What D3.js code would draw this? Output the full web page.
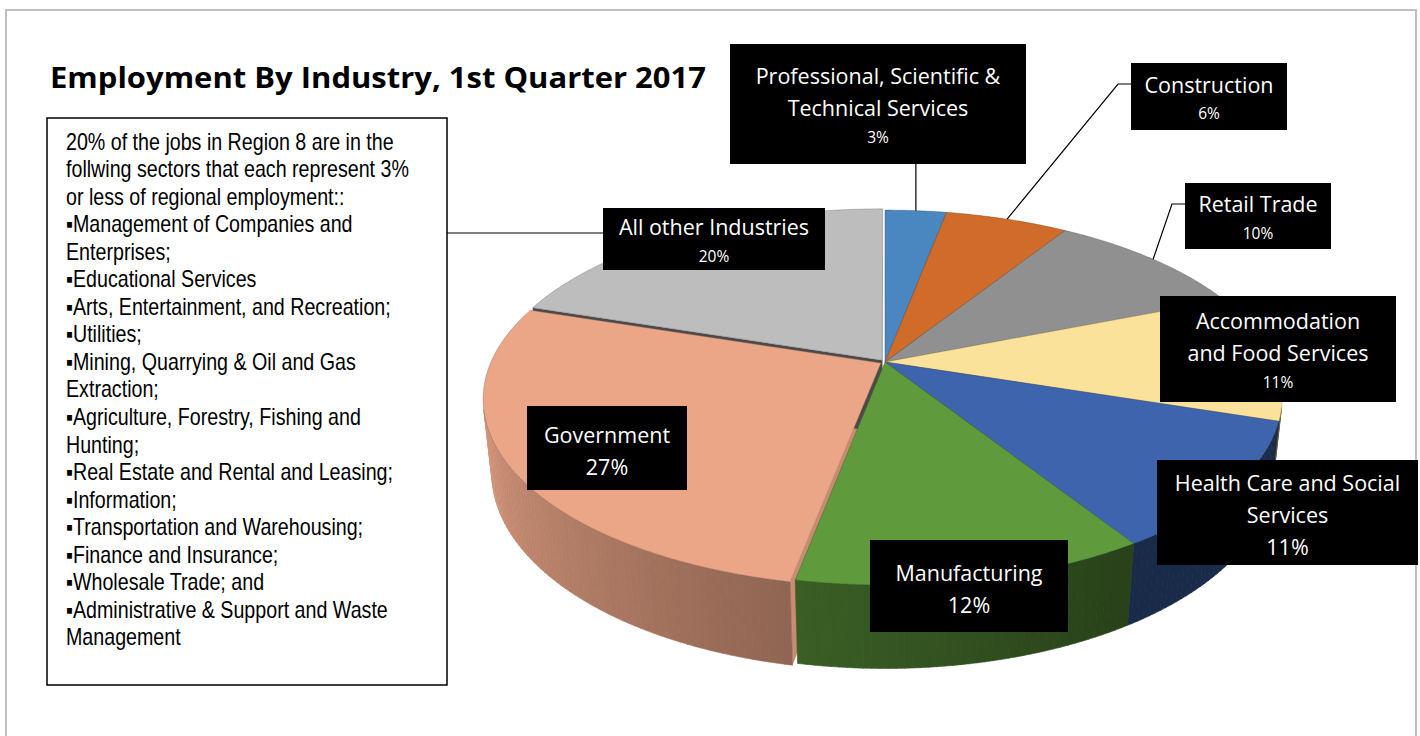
<!DOCTYPE html>
<html>
<head>
<meta charset="utf-8">
<script src="https://cdn.jsdelivr.net/npm/d3@7"></script>
<style>
  body { margin: 0; background: #fff; }
  svg { display: block; }
</style>
</head>
<body>
<div id="chart"></div>
<script>
// ---- data ----
const chartTitle = "Employment By Industry, 1st Quarter 2017";
const categories = [
    "Professional, Scientific & Technical Services",
    "Construction",
    "Retail Trade",
    "Accommodation and Food Services",
    "Health Care and Social Services",
    "Manufacturing",
    "Government",
    "All other Industries"
];
const shares = [3, 6, 10, 11, 11, 12, 27, 20];
const sliceColors = ["#4a86bf", "#d06b29", "#909090", "#fbe29b", "#3d64ac", "#5f9a3c", "#eba587", "#bdbdbd"];
const noteLines = [
    "20% of the jobs in Region 8 are in the",
    "follwing sectors that each represent 3%",
    "or less of regional employment::",
    "\u25aaManagement of Companies and",
    "Enterprises;",
    "\u25aaEducational Services",
    "\u25aaArts, Entertainment, and Recreation;",
    "\u25aaUtilities;",
    "\u25aaMining, Quarrying & Oil and Gas",
    "Extraction;",
    "\u25aaAgriculture, Forestry, Fishing and",
    "Hunting;",
    "\u25aaReal Estate and Rental and Leasing;",
    "\u25aaInformation;",
    "\u25aaTransportation and Warehousing;",
    "\u25aaFinance and Insurance;",
    "\u25aaWholesale Trade; and",
    "\u25aaAdministrative & Support and Waste",
    "Management"
];

// ---- layout (label boxes are placed by hand, like in the original) ----
const labelLayout = [
    {x: 730,  y: 44,  w: 296, h: 120, lines: ["Professional, Scientific &", "Technical Services"], pct: 16, leader: "down"},
    {x: 1131, y: 63,  w: 156, h: 67,  lines: ["Construction"], pct: 16, leader: "left"},
    {x: 1185, y: 183, w: 146, h: 66,  lines: ["Retail Trade"], pct: 16, leader: "left"},
    {x: 1160, y: 296, w: 236, h: 106, lines: ["Accommodation", "and Food Services"], pct: 16},
    {x: 1157, y: 460, w: 261, h: 105, lines: ["Health Care and Social", "Services"], pct: 22},
    {x: 870,  y: 540, w: 198, h: 92,  lines: ["Manufacturing"], pct: 22},
    {x: 527,  y: 406, w: 160, h: 84,  lines: ["Government"], pct: 22},
    {x: 603,  y: 208, w: 222, h: 62,  lines: ["All other Industries"], pct: 16}
];
const explodeBy = [0, 0, 0, 0, 0, 0, 0.012, 0.012];

const W = 1420, H = 736;
const labelFont = "'Open Sans', Lato, sans-serif";

const svg = d3.select("#chart").append("svg")
    .attr("width", W)
    .attr("height", H);

svg.append("rect")
    .attr("x", 6).attr("y", 10)
    .attr("width", 1410).attr("height", 740)
    .attr("fill", "#fff")
    .attr("stroke", "#bfbfbf")
    .attr("stroke-width", 2);

// ---- perspective camera for the 3D pie ----
const cam = {cx: 885, cy: 362, F: 1825, dist: 4.68, tilt: 27.6 * Math.PI / 180, depth: 0.215};
const cosT = Math.cos(cam.tilt), sinT = Math.sin(cam.tilt);

function project(X, Y, Z) {
    let d = cam.dist + Z * cosT - Y * sinT;
    let up = Y * cosT + Z * sinT;
    return [cam.cx + cam.F * X / d, cam.cy - cam.F * up / d];
}
// camera position in world coords
const camPos = {X: 0, Y: cam.dist * sinT, Z: -cam.dist * cosT};

function rimPoint(a, off, y, r) {
    r = r === undefined ? 1 : r;
    return project(off.X + r * Math.sin(a), y, off.Z + r * Math.cos(a));
}

const pie = d3.pie().sort(null).value(d => d);
const arcs = pie(shares);
const total = d3.sum(shares);

arcs.forEach(function (d, i) {
    let mid = (d.startAngle + d.endAngle) / 2;
    let e = explodeBy[i];
    d.off = {X: e * Math.sin(mid), Z: e * Math.cos(mid)};
    d.color = sliceColors[i];
});

// side wall shading against angle
const shade = d3.scaleLinear()
    .domain([150, 256].map(v => v * Math.PI / 180))
    .range([0.43, 0.9])
    .clamp(true);

function darken(c, f) {
    let rgb = d3.rgb(c);
    return d3.rgb(rgb.r * f, rgb.g * f, rgb.b * f).formatHex();
}

const lineGen = d3.line();
const step = Math.PI / 180;

// visible outer wall range (front facing)
const wallMin = Math.acos(-1 / (cam.dist * cosT));
const wallMax = 2 * Math.PI - wallMin;

const gPie = svg.append("g");

// radial cut faces (only show where slices are pulled out)
arcs.forEach(function (d, i) {
    [[d.startAngle, -1], [d.endAngle, 1]].forEach(function (f) {
        let a = f[0], s = f[1];
        let n = {X: s * Math.cos(a), Z: -s * Math.sin(a)};
        let P = {X: d.off.X + 0.5 * Math.sin(a), Z: d.off.Z + 0.5 * Math.cos(a)};
        let v = (camPos.X - P.X) * n.X + (camPos.Z - P.Z) * n.Z;
        if (v <= 0) return;
        let pts = [rimPoint(a, d.off, 0, 0), rimPoint(a, d.off, 0, 1),
                   rimPoint(a, d.off, -cam.depth, 1), rimPoint(a, d.off, -cam.depth, 0)];
        gPie.append("path")
            .attr("d", lineGen(pts) + "Z")
            .attr("fill", i === 7 ? "#4a4a4a" : darken(d.color, 0.85))
            .attr("stroke", "none");
    });
});

// outer walls
arcs.forEach(function (d, i) {
    let a0 = Math.max(d.startAngle, wallMin);
    let a1 = Math.min(d.endAngle, wallMax);
    if (a1 <= a0) return;
    let segs = d3.range(a0, a1, step);
    segs.forEach(function (a) {
        let b = Math.min(a + step * 1.05, a1);
        let pts = [rimPoint(a, d.off, 0), rimPoint(b, d.off, 0),
                   rimPoint(b, d.off, -cam.depth), rimPoint(a, d.off, -cam.depth)];
        let c = darken(d.color, shade((a + b) / 2));
        gPie.append("path")
            .attr("d", lineGen(pts) + "Z")
            .attr("fill", c)
            .attr("stroke", c)
            .attr("stroke-width", 0.6);
    });
});

// top faces
arcs.forEach(function (d, i) {
    let pts = [rimPoint(0, d.off, 0, 0)];
    d3.range(d.startAngle, d.endAngle, step / 2).forEach(a => pts.push(rimPoint(a, d.off, 0)));
    pts.push(rimPoint(d.endAngle, d.off, 0));
    gPie.append("path")
        .attr("d", lineGen(pts) + "Z")
        .attr("fill", d.color)
        .attr("stroke", darken(d.color, 0.6))
        .attr("stroke-opacity", 0.5)
        .attr("stroke-width", 0.8)
        .attr("stroke-linejoin", "round");
});

// ---- title ----
svg.append("text")
    .attr("x", 50).attr("y", 88)
    .attr("font-family", labelFont)
    .attr("font-weight", "bold")
    .attr("font-size", 29)
    .attr("textLength", 656)
    .attr("lengthAdjust", "spacingAndGlyphs")
    .attr("fill", "#000")
    .text(chartTitle);

// ---- note box ----
svg.append("line")
    .attr("x1", 447).attr("y1", 233).attr("x2", 603).attr("y2", 233)
    .attr("stroke", "#000").attr("stroke-width", 1);

svg.append("rect")
    .attr("x", 47).attr("y", 118)
    .attr("width", 400).attr("height", 567)
    .attr("fill", "#fff")
    .attr("stroke", "#000")
    .attr("stroke-width", 1.5);

// Arial Narrow is not available, so squeeze a regular sans horizontally
svg.append("g")
    .selectAll("text")
    .data(noteLines)
    .join("text")
    .attr("transform", (d, i) => `translate(66, ${149.5 + i * 27.55}) scale(0.855, 1)`)
    .attr("font-family", "'Liberation Sans', Arial, sans-serif")
    .attr("font-size", 23)
    .attr("fill", "#000")
    .text(d => d);

// ---- data labels ----
const gLab = svg.append("g");
arcs.forEach(function (d, i) {
    let L = labelLayout[i];
    let mid = (d.startAngle + d.endAngle) / 2;
    let anchor = rimPoint(mid, d.off, 0);

    if (L.leader === "down") {
        gLab.append("path")
            .attr("d", lineGen([[anchor[0], L.y + L.h], anchor]))
            .attr("stroke", "#000").attr("fill", "none").attr("stroke-width", 1.2);
    } else if (L.leader === "left") {
        let yy = L.y + 21;
        gLab.append("path")
            .attr("d", lineGen([[L.x, yy], [L.x - 13, yy], anchor]))
            .attr("stroke", "#000").attr("fill", "none").attr("stroke-width", 1.2);
    }

    gLab.append("rect")
        .attr("x", L.x).attr("y", L.y)
        .attr("width", L.w).attr("height", L.h)
        .attr("fill", "#000");

    let rows = L.lines.map(t => ({t: t, size: 21.5, gap: 32}));
    rows.push({t: Math.round(d.value / total * 100) + "%", size: L.pct === 22 ? 21.5 : 15.5, gap: L.pct === 22 ? 32 : 29});
    let hgt = d3.sum(rows.slice(1), r => r.gap);
    let cy = L.y + L.h / 2 + 2 - hgt / 2;
    let yPos = 0;
    rows.forEach(function (r, k) {
        if (k > 0) yPos += r.gap;
        gLab.append("text")
            .attr("x", L.x + L.w / 2)
            .attr("y", cy + yPos)
            .attr("text-anchor", "middle")
            .attr("dominant-baseline", "central")
            .attr("font-family", labelFont)
            .attr("font-size", r.size)
            .attr("fill", "#fff")
            .text(r.t);
    });
});
</script>
</body>
</html>
